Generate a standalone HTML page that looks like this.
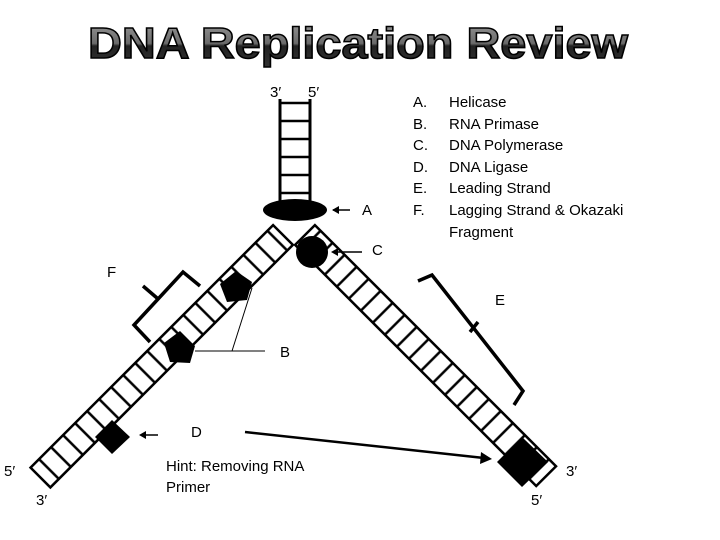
<!DOCTYPE html>
<html><head><meta charset="utf-8"><style>
html,body{margin:0;padding:0;background:#fff;}
svg{display:block}
.t{font-family:"Liberation Sans",sans-serif;}
</style></head><body>
<svg width="720" height="540" viewBox="0 0 720 540" xmlns="http://www.w3.org/2000/svg">
<defs>
<linearGradient id="g" x1="0" y1="0" x2="0" y2="1">
<stop offset="0" stop-color="#9a9a9a"/><stop offset="0.5" stop-color="#6a6a6a"/><stop offset="0.55" stop-color="#222"/><stop offset="1" stop-color="#333"/>
</linearGradient>
<pattern id="rl" width="17" height="28" patternUnits="userSpaceOnUse" x="0" y="-14">
<line x1="8" y1="0" x2="8" y2="28" stroke="#000" stroke-width="2.5"/>
</pattern>
</defs>
<text x="358" y="58" text-anchor="middle" class="t" font-size="44" font-weight="bold" fill="url(#g)" stroke="#000" stroke-width="1.5" textLength="540" lengthAdjust="spacingAndGlyphs">DNA Replication Review</text>

<!-- vertical ladder -->
<line x1="280" y1="99" x2="280" y2="205" stroke="#000" stroke-width="3"/>
<line x1="310" y1="99" x2="310" y2="205" stroke="#000" stroke-width="3"/>
<g stroke="#000" stroke-width="2.5">
<line x1="280" y1="103" x2="310" y2="103"/><line x1="280" y1="121" x2="310" y2="121"/>
<line x1="280" y1="139" x2="310" y2="139"/><line x1="280" y1="157" x2="310" y2="157"/>
<line x1="280" y1="175" x2="310" y2="175"/><line x1="280" y1="193" x2="310" y2="193"/>
</g>
<text x="270" y="97" class="t" font-size="15">3′</text>
<text x="308" y="97" class="t" font-size="15">5′</text>

<!-- left arm -->
<g transform="translate(283,235) rotate(135)">
<rect x="0" y="-14" width="343" height="28" fill="url(#rl)" stroke="#000" stroke-width="2.5"/>
</g>
<!-- right arm -->
<g transform="translate(305,235) rotate(45)">
<rect x="0" y="-14" width="341" height="28" fill="url(#rl)" stroke="#000" stroke-width="2.5"/>
</g>

<!-- helicase -->
<ellipse cx="295" cy="210" rx="32" ry="11" fill="#000"/>
<line x1="333" y1="210" x2="350" y2="210" stroke="#000" stroke-width="1.5"/>
<polygon points="332,210 339,206 339,214" fill="#000"/>
<text x="362" y="215" class="t" font-size="15">A</text>
<!-- C -->
<circle cx="312" cy="252" r="16" fill="#000"/>
<line x1="333" y1="252" x2="362" y2="252" stroke="#000" stroke-width="1.5"/>
<polygon points="331,252 338,248 338,256" fill="#000"/>
<text x="372" y="255" class="t" font-size="15">C</text>

<!-- pentagons -->
<polygon points="236,271 252,282 247,300 227,302 220,284" fill="#000"/>
<polygon points="180,331 195,346 190,363 170,362 164,343" fill="#000"/>
<line x1="195" y1="351" x2="265" y2="351" stroke="#000" stroke-width="1"/>
<line x1="252" y1="288" x2="232" y2="351" stroke="#000" stroke-width="1"/>
<text x="280" y="357" class="t" font-size="15">B</text>

<!-- D -->
<polygon points="112,420 130,437 112,454 95,437" fill="#000"/>
<line x1="142" y1="435" x2="158" y2="435" stroke="#000" stroke-width="1.5"/>
<polygon points="139,435 146,431 146,439" fill="#000"/>
<text x="191" y="437" class="t" font-size="15">D</text>
<line x1="245" y1="432" x2="484" y2="458" stroke="#000" stroke-width="2.5"/>
<polygon points="492,459 481,452 480,464" fill="#000"/>
<polygon points="522,437 548,462 522,487 497,462" fill="#000"/>

<!-- brackets -->
<polyline points="200,286 183,272 134,325 150,342" fill="none" stroke="#000" stroke-width="3.5"/>
<line x1="157" y1="298" x2="143" y2="286" stroke="#000" stroke-width="3.5"/>
<text x="107" y="277" class="t" font-size="15">F</text>
<polyline points="418,281 432,275 523,391 514,405" fill="none" stroke="#000" stroke-width="3.5"/>
<line x1="478" y1="322" x2="470" y2="332" stroke="#000" stroke-width="3.5"/>
<text x="495" y="305" class="t" font-size="15">E</text>

<!-- end labels -->
<text x="4" y="476" class="t" font-size="15">5′</text>
<text x="36" y="505" class="t" font-size="15">3′</text>
<text x="566" y="476" class="t" font-size="15">3′</text>
<text x="531" y="505" class="t" font-size="15">5′</text>

<text x="166" y="471" class="t" font-size="15">Hint: Removing RNA</text>
<text x="166" y="492" class="t" font-size="15">Primer</text>

<!-- list -->
<g class="t" font-size="15">
<text x="413" y="107">A.</text><text x="449" y="107">Helicase</text>
<text x="413" y="129">B.</text><text x="449" y="129">RNA Primase</text>
<text x="413" y="150">C.</text><text x="449" y="150">DNA Polymerase</text>
<text x="413" y="172">D.</text><text x="449" y="172">DNA Ligase</text>
<text x="413" y="193">E.</text><text x="449" y="193">Leading Strand</text>
<text x="413" y="215">F.</text><text x="449" y="215">Lagging Strand &amp; Okazaki</text>
<text x="449" y="237">Fragment</text>
</g>
</svg>
</body></html>
